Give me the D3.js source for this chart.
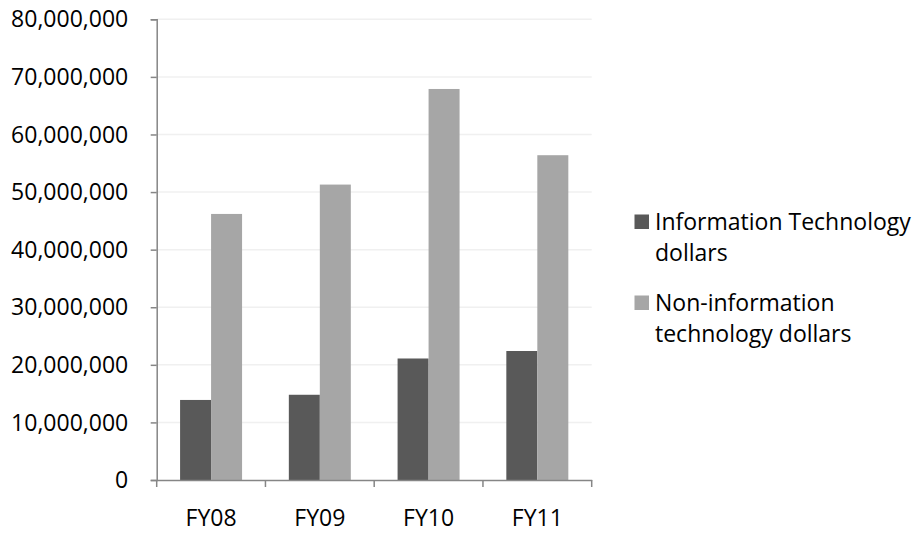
<!DOCTYPE html>
<html>
<head>
<meta charset="utf-8">
<script src="https://cdn.jsdelivr.net/npm/d3@7"></script>
<style>
  html, body { margin: 0; padding: 0; background: #fff; }
  svg { display: block; font-family: "Open Sans", "Liberation Sans", sans-serif; }
</style>
</head>
<body>
<svg id="chart" width="917" height="534"></svg>
<script>
const categories = ["FY08", "FY09", "FY10", "FY11"];
const seriesNames = ["Information Technology dollars", "Non-information technology dollars"];
const itDollars = [13900000, 14800000, 21100000, 22400000];
const nonItDollars = [46200000, 51300000, 67900000, 56400000];
const yTicks = [0, 10000000, 20000000, 30000000, 40000000, 50000000, 60000000, 70000000, 80000000];
const legendLines = [["Information Technology", "dollars"], ["Non-information", "technology dollars"]];
const colors = ["#595959", "#a6a6a6"];

const svg = d3.select("#chart");
const plotLeft = 156.7, plotRight = 591.7, plotTop = 19.3, plotBottom = 480;
const fontSize = 23;

const x0 = d3.scaleBand().domain(categories).range([plotLeft, plotRight]).padding(0);
const x1 = d3.scaleBand().domain([0, 1])
  .range([x0.bandwidth() * 0.215, x0.bandwidth() * 0.785]).padding(0);
const y = d3.scaleLinear().domain([0, 80000000]).range([plotBottom, plotTop]);

// gridlines
svg.append("g").selectAll("line").data(yTicks.slice(1)).join("line")
  .attr("x1", plotLeft).attr("x2", plotRight)
  .attr("y1", d => y(d)).attr("y2", d => y(d))
  .attr("stroke", "#f0f0f0").attr("stroke-width", 1.5);

// bars
const series = [itDollars, nonItDollars];
const groups = svg.append("g").selectAll("g").data(categories).join("g")
  .attr("transform", c => `translate(${x0(c)},0)`);
groups.selectAll("rect").data((c, i) => series.map((s, k) => ({ k, v: s[i] }))).join("rect")
  .attr("x", d => x1(d.k))
  .attr("width", x1.bandwidth())
  .attr("y", d => y(d.v))
  .attr("height", d => y(0) - y(d.v))
  .attr("fill", d => colors[d.k]);

// y axis
const fmt = d3.format(",");
const yAxis = svg.append("g").attr("transform", `translate(${plotLeft},0)`)
  .call(d3.axisLeft(y).tickValues(yTicks).tickFormat(fmt).tickSize(6).tickPadding(22.5));
yAxis.select(".domain").attr("stroke", "#868686").attr("stroke-width", 1.5);
yAxis.selectAll(".tick line").attr("stroke", "#868686").attr("stroke-width", 1.5);
yAxis.selectAll(".tick text").attr("font-size", fontSize).attr("fill", "#000")
  .attr("font-family", "'Open Sans', sans-serif").attr("dy", "0.33em");

// x axis
const xAxis = svg.append("g").attr("transform", `translate(0,${plotBottom})`)
  .call(d3.axisBottom(x0).tickSize(0).tickPadding(0));
xAxis.select(".domain").attr("stroke", "#868686").attr("stroke-width", 1.5);
xAxis.selectAll(".tick text").attr("font-size", fontSize).attr("fill", "#000")
  .attr("font-family", "'Open Sans', sans-serif").attr("dy", 0).attr("y", 46);
// category boundary ticks
const bounds = categories.map(c => x0(c)).concat([x0(categories[categories.length - 1]) + x0.bandwidth()]);
xAxis.append("g").selectAll("line").data(bounds).join("line")
  .attr("x1", d => d).attr("x2", d => d).attr("y1", 0).attr("y2", 7)
  .attr("stroke", "#868686").attr("stroke-width", 1.5);

// legend
const legendTop = [214.5, 295.5];
const lg = svg.append("g");
seriesNames.forEach((name, i) => {
  lg.append("rect").attr("x", 634.5).attr("y", legendTop[i]).attr("width", 14.5).attr("height", 14.5)
    .attr("fill", colors[i]);
  const t = lg.append("text").attr("font-size", fontSize).attr("fill", "#000")
    .attr("font-family", "'Open Sans', sans-serif");
  legendLines[i].forEach((line, j) => {
    t.append("tspan").attr("x", 655).attr("y", legendTop[i] + 15.5 + j * 30.5).text(line);
  });
});
</script>
</body>
</html>
